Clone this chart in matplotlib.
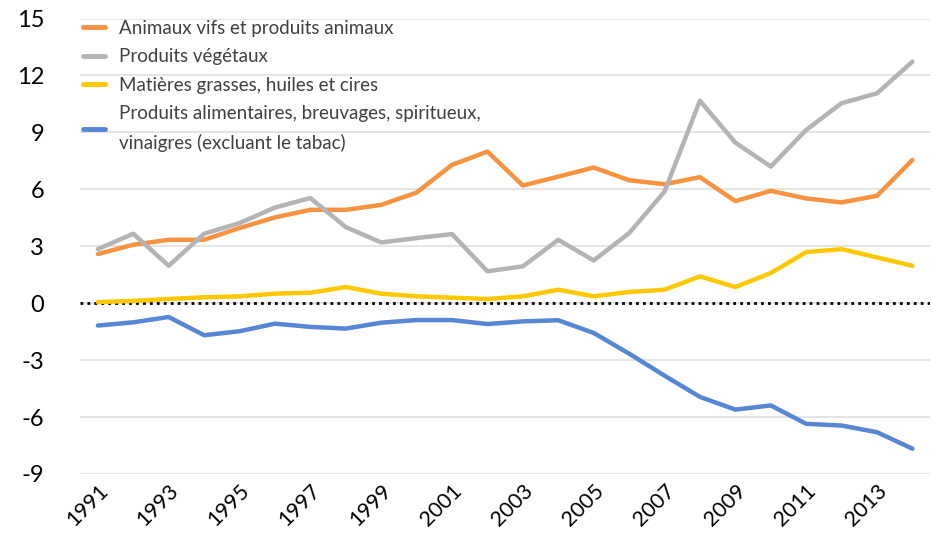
import numpy as np
import matplotlib.pyplot as plt

years = list(range(1991, 2015))

animaux = [2.59, 3.08, 3.34, 3.34, 3.96, 4.52, 4.92, 4.92, 5.18, 5.83, 7.29, 7.99,
           6.20, 6.67, 7.15, 6.48, 6.27, 6.64, 5.38, 5.92, 5.52, 5.31, 5.66, 7.55]
vegetaux = [2.85, 3.66, 1.97, 3.66, 4.22, 5.04, 5.54, 4.01, 3.20, 3.43, 3.64, 1.68,
            1.94, 3.34, 2.25, 3.69, 5.88, 10.67, 8.46, 7.20, 9.13, 10.54, 11.06, 12.73]
graisses = [0.06, 0.12, 0.22, 0.31, 0.36, 0.50, 0.55, 0.85, 0.50, 0.36, 0.29, 0.22,
            0.36, 0.71, 0.36, 0.59, 0.71, 1.41, 0.85, 1.59, 2.69, 2.85, 2.41, 1.97]
alimentaires = [-1.18, -1.01, -0.73, -1.69, -1.48, -1.08, -1.25, -1.34, -1.03, -0.89, -0.89, -1.10,
                -0.96, -0.90, -1.57, -2.66, -3.82, -4.94, -5.61, -5.39, -6.36, -6.45, -6.80, -7.67]

labels = ["Animaux vifs et produits animaux",
          "Produits végétaux",
          "Matières grasses, huiles et cires",
          "Produits alimentaires, breuvages, spiritueux,\nvinaigres (excluant le tabac)"]
colors = ["#F69240", "#B4B4B4", "#FFC800", "#5686D4"]

plt.rcParams['font.family'] = ['Lato', 'DejaVu Sans']
plt.rcParams['axes.unicode_minus'] = False

fig = plt.figure(figsize=(9.32, 5.46), dpi=100)
ax = fig.add_axes([0.086, 0.132, 0.912, 0.834])

for serie, lab, col in zip([animaux, vegetaux, graisses, alimentaires], labels, colors):
    ax.plot(years, serie, color=col, lw=3.2, label=lab, solid_capstyle='round')

ax.axhline(0, color='black', lw=2, ls=(0, (1, 1.5)), zorder=1)

ax.set_xlim(1990.5, 2014.5)
ax.set_ylim(-9, 15)
ax.set_yticks(np.arange(-9, 16, 3))
ax.set_xticks(years[::2])
ax.set_xticklabels([str(y) for y in years[::2]], rotation=45, ha='right',
                   rotation_mode='anchor', fontsize=15.5)
ax.tick_params(axis='y', labelsize=17, length=0, pad=26)
ax.tick_params(axis='x', length=0, pad=5)

ax.grid(axis='y', color='#E0E0E0', lw=1.2)
ax.set_axisbelow(True)
for sp in ax.spines.values():
    sp.set_visible(False)

leg = ax.legend(loc='upper left', bbox_to_anchor=(-0.017, 1.035), frameon=False,
                fontsize=13.5, handlelength=1.2, handletextpad=0.75, labelspacing=0.62,
                labelcolor='#404040')
for line in leg.get_lines():
    line.set_linewidth(3.5)
for txt in leg.get_texts():
    txt.set_linespacing(1.75)

fig.savefig("out.png", dpi=100)
